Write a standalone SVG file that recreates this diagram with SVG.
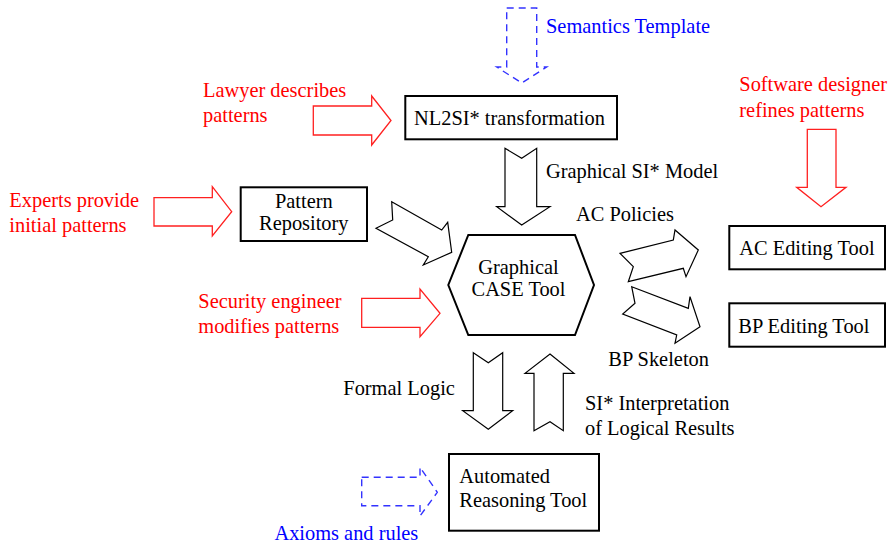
<svg xmlns="http://www.w3.org/2000/svg" width="888" height="548" viewBox="0 0 888 548">
<style>
text{font-family:"Liberation Serif","Times New Roman",serif;font-size:20.4px;fill:#000}
.red{fill:#ff0000}
.blue{fill:#0000ff}
.box{fill:#fff;stroke:#000;stroke-width:2}
.arr{fill:#fff;stroke:#000;stroke-width:1.2;stroke-linejoin:miter}
.rarr{fill:#fff;stroke:#ff2020;stroke-width:1.3}
.barr{fill:none;stroke:#3333ff;stroke-width:1.4;stroke-dasharray:7,5}
</style>
<rect width="888" height="548" fill="#fff"/>
<g id="connectors">
<polygon class="barr" points="506.7,8 536.7,8 536.7,67 546.7,67 521.7,83 496.7,67 506.7,67"/>
<polygon class="rarr" points="313.3,106 371.7,106 371.7,96 391,120.5 371.7,145 371.7,135 313.3,135"/>
<polygon class="rarr" points="154,197.7 212.3,197.7 212.3,186.7 231.7,211.7 212.3,236 212.3,226 154,226"/>
<polygon class="rarr" points="361.7,298.3 420,298.3 420,289 440,313.3 420,336.7 420,327.3 361.7,327.3"/>
<polygon class="rarr" points="807.3,129.3 836,129.3 836,187.3 846,187.3 821,206.7 796.7,187.3 807.3,187.3"/>
<polygon class="barr" points="361.7,477.3 420,477.3 420,467.3 437.3,492.3 420,516 420,505.7 361.7,505.7"/>
<polygon class="arr" points="505,148.3 521.7,158.3 536.7,148.3 536.7,206.7 550,206.7 521.7,225 496.7,206.7 505,206.7"/>
<polygon class="arr" points="391.7,201.7 441.7,230 447.7,222.3 451.7,252.3 423.3,265 428.3,256.7 376,228.3 392.7,220"/>
<polygon class="arr" points="620,253.3 673.3,240 675,230 698.3,250 686,276.7 683.3,268.3 628.3,281.7 633.3,266.7"/>
<polygon class="arr" points="631.7,286.7 688.3,308.3 690,296.7 700,326.7 675,343.3 676.7,335 622.7,314 635,303.3"/>
<polygon class="arr" points="473.3,352.7 488.3,362.7 502.7,352.7 502.7,410.7 512.7,410.7 488.3,429.3 462.7,410.7 473.3,410.7"/>
<polygon class="arr" points="550,354 574,373.3 563.3,373.3 563.3,430.7 550,421.7 534,430.7 534,373.3 525,373.3"/>
</g>
<g id="nl2si">
<rect class="box" x="405.3" y="96" width="211.7" height="43.3"/>
<text x="414" y="125">NL2SI* transformation</text>
</g>
<g id="pattern-repository">
<rect class="box" x="240.7" y="187.3" width="126.3" height="53.7"/>
<text x="303.8" y="207.5" text-anchor="middle">Pattern</text>
<text x="303.8" y="229.5" text-anchor="middle">Repository</text>
</g>
<g id="case-tool">
<polygon class="box" points="468.3,235 575,235 594,285 575,335 468.3,335 448.3,285"/>
<text x="518.5" y="274" text-anchor="middle">Graphical</text>
<text x="518.5" y="296" text-anchor="middle">CASE Tool</text>
</g>
<g id="ac-editing">
<rect class="box" x="729.3" y="226" width="155.7" height="43.3"/>
<text x="739.3" y="255">AC Editing Tool</text>
</g>
<g id="bp-editing">
<rect class="box" x="729.3" y="303.3" width="155.7" height="43.4"/>
<text x="738.3" y="332.7">BP Editing Tool</text>
</g>
<g id="reasoning">
<rect class="box" x="449" y="454" width="150" height="76.7"/>
<text x="459.3" y="482.7">Automated</text>
<text x="459.3" y="507.3">Reasoning Tool</text>
</g>
<g id="labels">
<text class="blue" x="546" y="33">Semantics Template</text>
<text class="red" x="203" y="97">Lawyer describes</text>
<text class="red" x="203" y="122">patterns</text>
<text class="red" x="739.3" y="90.5">Software designer</text>
<text class="red" x="739.3" y="116.7">refines patterns</text>
<text x="546" y="178">Graphical SI* Model</text>
<text class="red" x="9.3" y="206.7">Experts provide</text>
<text class="red" x="9.3" y="232.3">initial patterns</text>
<text x="576" y="221">AC Policies</text>
<text class="red" x="198.3" y="308.3">Security engineer</text>
<text class="red" x="198.3" y="333.3">modifies patterns</text>
<text x="608.3" y="366">BP Skeleton</text>
<text x="343.3" y="395">Formal Logic</text>
<text x="585" y="410">SI* Interpretation</text>
<text x="585" y="435">of Logical Results</text>
<text class="blue" x="418.3" y="540" text-anchor="end">Axioms and rules</text>
</g>
</svg>
